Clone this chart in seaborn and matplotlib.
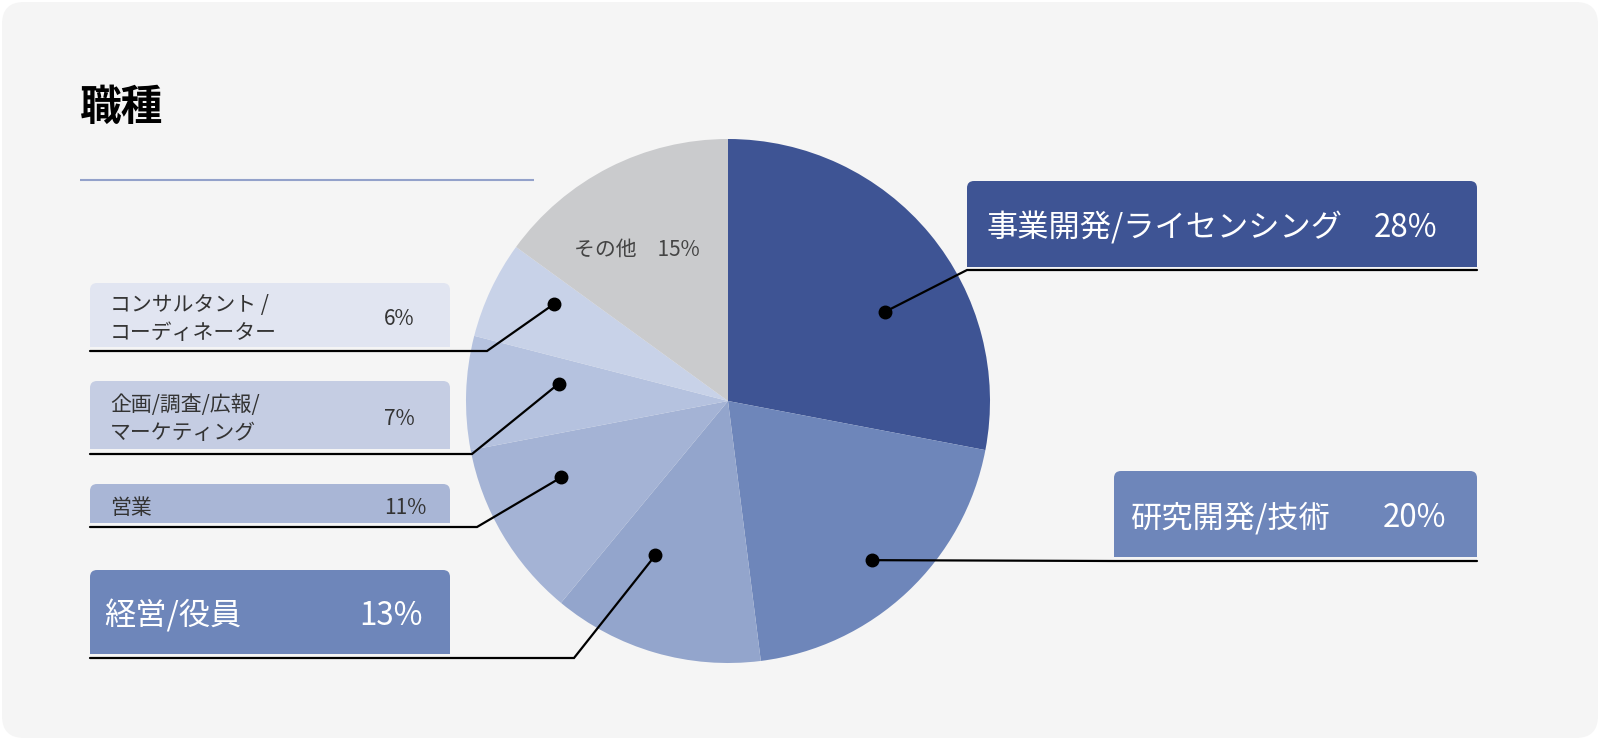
import matplotlib
matplotlib.use("Agg")
import matplotlib.pyplot as plt
import numpy as np
import seaborn as sns
from matplotlib.patches import FancyBboxPatch, Rectangle

sns.set_theme(style="white")
plt.rcParams["font.family"] = ["Noto Sans CJK JP", "DejaVu Sans"]

TITLE = "職種"
CATEGORIES = ["事業開発/ライセンシング", "研究開発/技術", "経営/役員", "営業",
              "企画/調査/広報/\nマーケティング", "コンサルタント /\nコーディネーター", "その他"]
SHARES = [28, 20, 13, 11, 7, 6, 15]
SLICE_COLORS = ["#3E5494", "#6E86BA", "#93A5CC", "#A4B3D5", "#B5C2DF", "#C8D2E8", "#CACBCD"]
BOX_COLORS = ["#3E5494", "#6E86BA", "#6E86BA", "#A9B6D6", "#C5CDE3", "#E1E5F1", None]

W, H = 1600, 740
CX, CY, R = 728, 401, 262

# label layout in pixels from top-left: box (x0, y0, x1, y1), underline y, elbow x, label x, pct x
LAYOUT = [
    dict(box=(967, 181, 1477, 267), uy=270, ex=967, end=1477, lx=986, px=1374, fs=22.5, tc="white"),
    dict(box=(1114, 471, 1477, 557), uy=561, ex=1114, end=1477, lx=1131, px=1383, fs=22.5, tc="white"),
    dict(box=(90, 570, 450, 654), uy=658, ex=574, end=90, lx=104, px=359, fs=22.5, tc="white"),
    dict(box=(90, 484, 450, 523), uy=527, ex=477, end=90, lx=110, px=384, fs=15, tc="#333333"),
    dict(box=(90, 381, 450, 449), uy=454, ex=472, end=90, lx=110, px=384, fs=15, tc="#333333"),
    dict(box=(90, 283, 450, 347), uy=351, ex=487, end=90, lx=110, px=384, fs=15, tc="#333333"),
]
# dot placement: radial fraction and clockwise angle shift from slice middle
DOT_FRAC = [0.69, 0.82, 0.65, 0.70, 0.65, 0.76]
DOT_SHIFT = [10, 1, 9, 6, 4, 4]
TEXT_DROP = 4  # CJK glyphs sit a little low against matplotlib's centre


def Y(y):
    return H - y


fig = plt.figure(figsize=(16, 7.4), dpi=100, facecolor="white")
ax = fig.add_axes([0, 0, 1, 1])

# card background
ax.add_patch(FancyBboxPatch((2, 2), W - 4, H - 4, boxstyle="round,pad=0,rounding_size=22",
                            facecolor="#F5F5F5", edgecolor="none", zorder=0))

wedges, _ = ax.pie(SHARES, colors=SLICE_COLORS, startangle=90, counterclock=False,
                   center=(CX, Y(CY)), radius=R, wedgeprops=dict(linewidth=0))
for w in wedges:
    w.set_zorder(1)

ax.set_xlim(0, W)
ax.set_ylim(0, H)
ax.set_aspect("auto")
ax.axis("off")

# title and rule
ax.text(80, Y(108), TITLE, fontsize=30, fontweight="bold", color="black", va="center", ha="left")
ax.plot([80, 534], [Y(180), Y(180)], color="#93A1CA", lw=1.5, solid_capstyle="butt")

for i, lay in enumerate(LAYOUT):
    x0, y0, x1, y1 = lay["box"]
    # box with rounded top corners
    ax.add_patch(FancyBboxPatch((x0, Y(y1)), x1 - x0, y1 - y0,
                                boxstyle="round,pad=0,rounding_size=7",
                                facecolor=BOX_COLORS[i], edgecolor="none", zorder=2))
    ax.add_patch(Rectangle((x0, Y(y1)), x1 - x0, (y1 - y0) / 2,
                           facecolor=BOX_COLORS[i], edgecolor="none", zorder=2))
    yc = (y0 + y1) / 2 + TEXT_DROP
    ax.text(lay["lx"], Y(yc), CATEGORIES[i], fontsize=lay["fs"], color=lay["tc"],
            va="center", ha="left", linespacing=1.38, zorder=3)
    ax.text(lay["px"], Y(yc), f"{SHARES[i]}%", fontsize=lay["fs"], color=lay["tc"],
            va="center", ha="left", zorder=3)

    # leader line from slice dot to box underline
    w = wedges[i]
    ang = np.deg2rad((w.theta1 + w.theta2) / 2 - DOT_SHIFT[i])
    dx = CX + DOT_FRAC[i] * R * np.cos(ang)
    dy = Y(CY) + DOT_FRAC[i] * R * np.sin(ang)
    ax.plot([dx, lay["ex"], lay["end"]], [dy, Y(lay["uy"]), Y(lay["uy"])],
            color="black", lw=1.6, zorder=4, solid_joinstyle="miter")
    ax.plot(dx, dy, "o", color="black", ms=9, zorder=5)

# label inside the gray slice
ax.text(574, Y(250), f"{CATEGORIES[6]}\u3000{SHARES[6]}%", fontsize=15,
        color="#444444", va="center", ha="left", zorder=3)

fig.savefig("out.png", dpi=100, facecolor="white")
